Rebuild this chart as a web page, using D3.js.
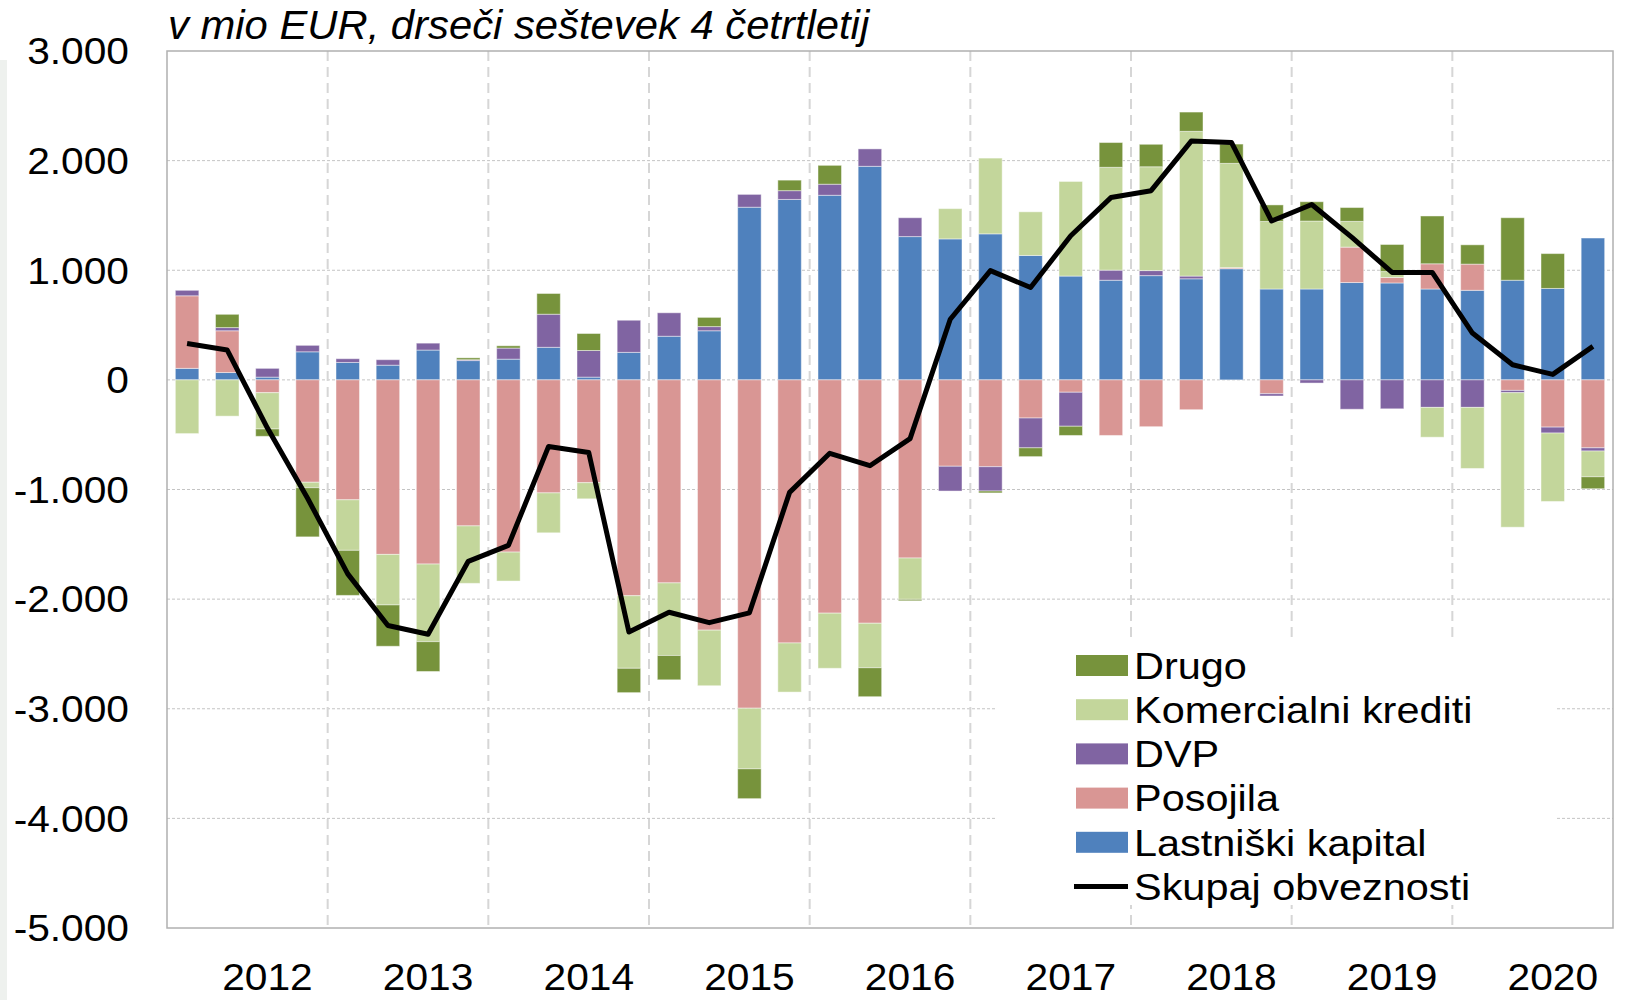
<!DOCTYPE html>
<html>
<head>
<meta charset="utf-8">
<script src="https://cdn.jsdelivr.net/npm/d3@7"></script>
<style>
  body { margin: 0; background: #fff; }
  svg { display: block; font-family: "Liberation Sans", Arial, sans-serif; }
</style>
</head>
<body>
<svg id="chart"></svg>
<script>
// kvartali, drseci sestevek 4 cetrtletij (mio EUR)
var quarters = ["2012Q1","2012Q2","2012Q3","2012Q4","2013Q1","2013Q2","2013Q3","2013Q4",
  "2014Q1","2014Q2","2014Q3","2014Q4","2015Q1","2015Q2","2015Q3","2015Q4",
  "2016Q1","2016Q2","2016Q3","2016Q4","2017Q1","2017Q2","2017Q3","2017Q4",
  "2018Q1","2018Q2","2018Q3","2018Q4","2019Q1","2019Q2","2019Q3","2019Q4",
  "2020Q1","2020Q2","2020Q3","2020Q4"];
var years = ["2012","2013","2014","2015","2016","2017","2018","2019","2020"];
var yTicks = [-5000,-4000,-3000,-2000,-1000,0,1000,2000,3000];

var lastniski = [105,67,25,256,159,134,272,176,189,297,25,251,398,448,1575,1646,
  1684,1948,1307,1286,1332,1135,947,909,951,922,1014,829,829,888,884,829,817,909,834,1294];
var posojila = [662,381,-117,-934,-1094,-1592,-1680,-1332,-1571,-1031,-938,-1969,-1852,-2283,-2995,-2400,
  -2128,-2220,-1625,-788,-792,-348,-113,-507,-427,-272,10,-126,0,323,50,230,239,-96,-431,-620];
var dvp = [50,29,80,59,34,50,63,8,101,302,243,293,214,38,117,80,
  101,159,172,-226,-222,-272,-310,92,46,25,0,-21,-29,-268,-264,-251,-251,-21,-54,-29];
var komercialni = [-490,-331,-331,-50,-461,-461,-708,-524,-264,-364,-147,-662,-662,-507,-553,-448,
  -503,-406,-377,276,691,398,863,938,947,1320,951,616,620,235,54,-272,-557,-1227,-624,-235];
var drugo = [0,121,-67,-448,-411,-377,-272,17,21,189,155,-222,-222,84,-272,96,
  172,-264,-13,0,-17,-80,-84,226,205,176,176,151,176,126,247,436,176,570,318,-109];
var skupaj = [331,272,-440,-1080,-1770,-2240,-2320,-1655,-1510,-607,-662,-2300,-2120,-2215,-2125,-1026,
  -670,-783,-536,553,997,842,1315,1663,1726,2178,2166,1449,1600,1300,980,980,427,138,50,306];

var series = [
  {key: "Lastniški kapital", values: lastniski, color: "#4f81bd"},
  {key: "Posojila", values: posojila, color: "#d99694"},
  {key: "DVP", values: dvp, color: "#8064a2"},
  {key: "Komercialni krediti", values: komercialni, color: "#c3d69b"},
  {key: "Drugo", values: drugo, color: "#77933c"}
];

var W = 1637, H = 1000;
var pLeft = 167, pRight = 1613, pTop = 51, pBottom = 928;
var SX = 1.1, FS = 37;

var svg = d3.select("#chart").attr("width", W).attr("height", H);

svg.append("rect").attr("x", 0).attr("y", 60).attr("width", 7).attr("height", H - 60)
  .attr("fill", "#eef1ee");

var x = d3.scaleBand().domain(quarters).range([pLeft, pRight])
  .paddingInner(0.415).paddingOuter(0.2075);
var step = x.step();
var y = d3.scaleLinear().domain([-5000, 3000]).range([pBottom, pTop]);

var loc = d3.formatLocale({decimal: ",", thousands: ".", grouping: [3], currency: ["", " €"], minus: "-"});
var fmt = loc.format(",d");

// mreza
svg.append("g").selectAll("line").data(yTicks.slice(1, -1)).enter().append("line")
  .attr("x1", pLeft).attr("x2", pRight)
  .attr("y1", function(d){ return y(d); }).attr("y2", function(d){ return y(d); })
  .attr("stroke", "#c4c4c4").attr("stroke-width", 1).attr("stroke-dasharray", "3,2");

svg.append("g").selectAll("line").data(years.slice(0, -1)).enter().append("line")
  .attr("x1", function(d, i){ return pLeft + (i + 1) * 4 * step; })
  .attr("x2", function(d, i){ return pLeft + (i + 1) * 4 * step; })
  .attr("y1", pTop).attr("y2", pBottom)
  .attr("stroke", "#d6d6d6").attr("stroke-width", 2).attr("stroke-dasharray", "10,6");

// stolpci
var table = quarters.map(function(q, i){
  var row = {q: q};
  series.forEach(function(s){ row[s.key] = s.values[i]; });
  return row;
});
var stacked = d3.stack().keys(series.map(function(s){ return s.key; }))
  .offset(d3.stackOffsetDiverging)(table);

svg.append("g").selectAll("g").data(stacked).enter().append("g")
  .attr("fill", function(d, i){ return series[i].color; })
  .selectAll("rect").data(function(d){ return d; }).enter().append("rect")
  .attr("x", function(d){ return x(d.data.q); })
  .attr("width", x.bandwidth())
  .attr("y", function(d){ return y(Math.max(d[0], d[1])); })
  .attr("height", function(d){ return Math.abs(y(d[0]) - y(d[1])); })
  .attr("stroke", "#fff").attr("stroke-opacity", 0.45).attr("stroke-width", 1);

// skupaj obveznosti
var line = d3.line()
  .x(function(d, i){ return x(quarters[i]) + x.bandwidth() / 2; })
  .y(function(d){ return y(d); });
svg.append("path").datum(skupaj).attr("d", line)
  .attr("fill", "none").attr("stroke", "#000").attr("stroke-width", 5)
  .attr("stroke-linejoin", "round");

// okvir
svg.append("rect").attr("x", pLeft).attr("y", pTop)
  .attr("width", pRight - pLeft).attr("height", pBottom - pTop)
  .attr("fill", "none").attr("stroke", "#b0b0b0").attr("stroke-width", 1.5);

// osi
svg.append("g").selectAll("text").data(yTicks).enter().append("text")
  .attr("transform", function(d){ return "translate(129," + y(d) + ") scale(" + SX + ",1)"; })
  .attr("text-anchor", "end").attr("dy", "0.36em")
  .attr("font-size", FS).attr("fill", "#000")
  .text(function(d){ return fmt(d); });

svg.append("g").selectAll("text").data(years).enter().append("text")
  .attr("transform", function(d, i){
    return "translate(" + (x(quarters[i * 4 + 2]) + x.bandwidth() / 2) + ",990) scale(" + SX + ",1)";
  })
  .attr("text-anchor", "middle").attr("font-size", FS).attr("fill", "#000")
  .text(function(d){ return d; });

svg.append("text")
  .attr("transform", "translate(168,39) scale(1.045,1)")
  .attr("font-size", 40).attr("font-style", "italic").attr("fill", "#000")
  .text("v mio EUR, drseči seštevek 4 četrtletij");

// legenda
var legend = svg.append("g");
legend.append("rect").attr("x", 995).attr("y", 642).attr("width", 561).attr("height", 263).attr("fill", "#fff");
var legItems = series.slice().reverse().concat([{key: "Skupaj obveznosti", line: true}]);
var rows = legend.selectAll("g").data(legItems).enter().append("g")
  .attr("transform", function(d, i){ return "translate(0," + (665.5 + i * 44.2) + ")"; });
rows.filter(function(d){ return !d.line; }).append("rect")
  .attr("x", 1076).attr("y", -10.5).attr("width", 52).attr("height", 21)
  .attr("fill", function(d){ return d.color; });
rows.filter(function(d){ return d.line; }).append("line")
  .attr("x1", 1074).attr("x2", 1128).attr("y1", 0).attr("y2", 0)
  .attr("stroke", "#000").attr("stroke-width", 5);
rows.append("text")
  .attr("transform", "translate(1134,0) scale(1.12,1)")
  .attr("dy", "0.36em").attr("font-size", FS).attr("fill", "#000")
  .text(function(d){ return d.key; });
</script>
</body>
</html>
